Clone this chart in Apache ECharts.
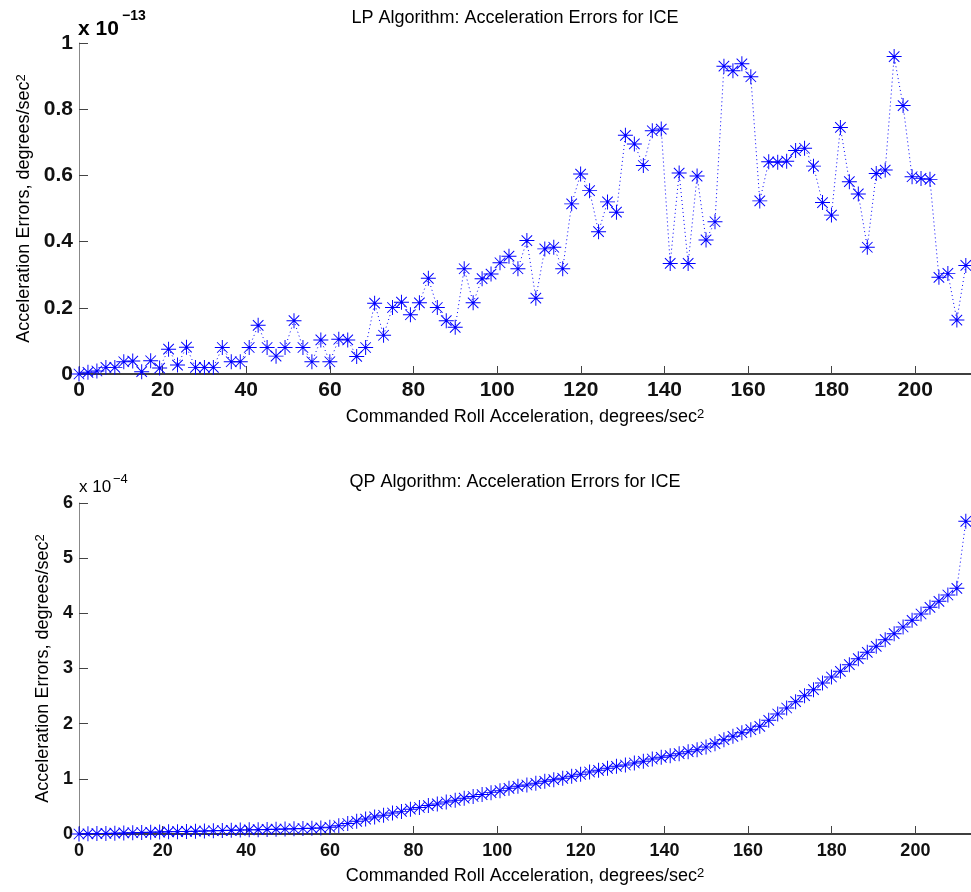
<!DOCTYPE html>
<html>
<head>
<meta charset="utf-8">
<title>LP / QP Acceleration Errors for ICE</title>
<script src="https://cdn.jsdelivr.net/npm/echarts@6/dist/echarts.min.js"></script>
<style>
  html, body { margin: 0; padding: 0; background: #ffffff; }
  #chart { width: 971px; height: 892px; }
</style>
</head>
<body>
<div id="chart"></div>
<script>
// Commanded roll acceleration (degrees/sec^2) at each test case
const rollAccel = [
  0, 2.14, 4.28, 6.43, 8.57, 10.71, 12.85, 14.99, 17.14, 19.28,
  21.42, 23.56, 25.7, 27.85, 29.99, 32.13, 34.27, 36.41, 38.56, 40.7,
  42.84, 44.98, 47.12, 49.27, 51.41, 53.55, 55.69, 57.83, 59.98, 62.12,
  64.26, 66.4, 68.54, 70.69, 72.83, 74.97, 77.11, 79.25, 81.4, 83.54,
  85.68, 87.82, 89.96, 92.11, 94.25, 96.39, 98.53, 100.67, 102.82, 104.96,
  107.1, 109.24, 111.38, 113.53, 115.67, 117.81, 119.95, 122.09, 124.24, 126.38,
  128.52, 130.66, 132.8, 134.95, 137.09, 139.23, 141.37, 143.51, 145.66, 147.8,
  149.94, 152.08, 154.22, 156.37, 158.51, 160.65, 162.79, 164.93, 167.08, 169.22,
  171.36, 173.5, 175.64, 177.79, 179.93, 182.07, 184.21, 186.35, 188.5, 190.64,
  192.78, 194.92, 197.06, 199.21, 201.35, 203.49, 205.63, 207.77, 209.92, 212.06
];

// LP algorithm acceleration errors, in units of 1e-13 degrees/sec^2
const lpErrors = [
  0, 0.005, 0.009, 0.020, 0.020, 0.037, 0.039, 0.007, 0.040, 0.018,
  0.075, 0.027, 0.081, 0.020, 0.020, 0.020, 0.080, 0.037, 0.037, 0.080,
  0.147, 0.080, 0.054, 0.080, 0.161, 0.080, 0.037, 0.103, 0.037, 0.105,
  0.103, 0.053, 0.080, 0.214, 0.117, 0.201, 0.217, 0.179, 0.215, 0.289,
  0.201, 0.161, 0.141, 0.318, 0.215, 0.288, 0.302, 0.336, 0.356, 0.318,
  0.403, 0.229, 0.378, 0.383, 0.318, 0.514, 0.604, 0.554, 0.430, 0.520,
  0.489, 0.721, 0.695, 0.630, 0.735, 0.740, 0.334, 0.607, 0.334, 0.598,
  0.405, 0.460, 0.930, 0.916, 0.937, 0.898, 0.523, 0.641, 0.640, 0.643,
  0.675, 0.682, 0.628, 0.518, 0.480, 0.745, 0.581, 0.544, 0.383, 0.606,
  0.616, 0.959, 0.811, 0.596, 0.591, 0.588, 0.292, 0.304, 0.163, 0.328
];

// QP algorithm acceleration errors, in units of 1e-4 degrees/sec^2
const qpErrors = [
  0, 0.003, 0.007, 0.011, 0.015, 0.019, 0.023, 0.027, 0.031, 0.035,
  0.039, 0.043, 0.047, 0.051, 0.055, 0.059, 0.063, 0.067, 0.071, 0.075,
  0.079, 0.083, 0.087, 0.091, 0.095, 0.100, 0.105, 0.111, 0.122, 0.15,
  0.19, 0.23, 0.27, 0.31, 0.34, 0.38, 0.41, 0.45, 0.48, 0.515,
  0.545, 0.58, 0.61, 0.65, 0.68, 0.715, 0.75, 0.786, 0.828, 0.864,
  0.888, 0.918, 0.955, 0.985, 1.009, 1.045, 1.082, 1.124, 1.154, 1.190,
  1.227, 1.251, 1.287, 1.317, 1.360, 1.390, 1.420, 1.456, 1.492, 1.529,
  1.577, 1.637, 1.710, 1.770, 1.837, 1.891, 1.952, 2.060, 2.175, 2.284,
  2.399, 2.508, 2.616, 2.737, 2.846, 2.949, 3.069, 3.178, 3.293, 3.402,
  3.523, 3.631, 3.752, 3.873, 3.988, 4.109, 4.218, 4.332, 4.453, 5.668
];

const xTicks = [0, 20, 40, 60, 80, 100, 120, 140, 160, 180, 200];
const titles = [
  'LP Algorithm: Acceleration Errors for ICE',
  'QP Algorithm: Acceleration Errors for ICE'
];
const xName = 'Commanded Roll Acceleration, degrees/sec';
const yName = 'Acceleration Errors, degrees/sec';

const FONT = '"Liberation Sans", Arial, Helvetica, sans-serif';
const BLUE = '#0000ff';

// asterisk marker: horizontal, vertical and two diagonal strokes
const ASTERISK = 'path://M0 9.35H20V10.65H0Z M9.35 0H10.65V20H9.35Z ' +
  'M2.55 3.45L3.45 2.55L17.45 16.55L16.55 17.45Z M16.55 2.55L17.45 3.45L3.45 17.45L2.55 16.55Z';

function pairs(ys) {
  return rollAccel.map((x, i) => [x, ys[i]]);
}

function nameRich(size) {
  return {
    b: { fontSize: size, lineHeight: size, fontFamily: FONT, color: '#000',
         padding: [6, 0, 0, 0], verticalAlign: 'bottom' },
    sup: { fontSize: 13, lineHeight: 13, fontFamily: FONT, color: '#000',
           verticalAlign: 'top' }
  };
}

function xAxisFor(idx, labelSize, gap, margin) {
  return {
    gridIndex: idx, type: 'value', min: 0, max: 213.3,
    name: '{b|' + xName + '}{sup|2}',
    nameLocation: 'middle', nameGap: gap,
    nameTextStyle: { rich: nameRich(18) },
    axisLine: { show: true, onZero: false, lineStyle: { color: '#000', width: 1.6 } },
    axisTick: { show: true, inside: true, length: 8, customValues: xTicks,
                lineStyle: { color: '#444', width: 1 } },
    axisLabel: { customValues: xTicks, fontSize: labelSize, fontFamily: FONT,
                 fontWeight: 'bold', color: '#111', margin: margin },
    splitLine: { show: false }
  };
}

function yAxisFor(idx, max, step, labelSize, gap, fmt) {
  return {
    gridIndex: idx, type: 'value', min: 0, max: max, interval: step,
    name: '{b|' + yName + '}{sup|2}',
    nameLocation: 'middle', nameGap: gap,
    nameTextStyle: { rich: nameRich(18) },
    axisLine: { show: true, lineStyle: { color: '#888', width: 1 } },
    axisTick: { show: true, inside: true, length: 9, lineStyle: { color: '#444', width: 1 } },
    axisLabel: { fontSize: labelSize, fontFamily: FONT, fontWeight: 'bold',
                 color: '#111', margin: 6, formatter: fmt },
    splitLine: { show: false }
  };
}

function seriesFor(idx, ys) {
  return {
    type: 'line', xAxisIndex: idx, yAxisIndex: idx,
    data: pairs(ys),
    symbol: ASTERISK, symbolSize: 15, showAllSymbol: true,
    itemStyle: { color: BLUE },
    lineStyle: { color: BLUE, width: 1, type: [1, 3] },
    clip: false, silent: true, z: 3
  };
}

function textAt(x, y, text, size, align, weight) {
  return {
    type: 'text', x: x, y: y, silent: true,
    style: { text: text, fontSize: size, fontFamily: FONT, fill: '#000',
             fontWeight: weight || 'normal',
             align: align || 'left', verticalAlign: 'middle' }
  };
}

const chart = echarts.init(document.getElementById('chart'), null, { renderer: 'canvas' });
chart.setOption({
  animation: false,
  backgroundColor: '#ffffff',
  grid: [
    { left: 79, top: 43, right: 0, height: 331 },
    { left: 79, top: 503, right: 0, height: 331 }
  ],
  xAxis: [
    xAxisFor(0, 21, 32, 6),
    xAxisFor(1, 18, 28, 8)
  ],
  yAxis: [
    yAxisFor(0, 1, 0.2, 21, 44, v => String(Math.round(v * 10) / 10)),
    yAxisFor(1, 6, 1, 18, 24, v => String(Math.round(v)))
  ],
  series: [
    seriesFor(0, lpErrors),
    seriesFor(1, qpErrors)
  ],
  graphic: [
    textAt(515, 18.5, titles[0], 18, 'center'),
    textAt(515, 482, titles[1], 18, 'center'),
    textAt(78, 29, 'x 10', 21, 'left', 'bold'),
    textAt(122, 16, '\u221213', 14, 'left', 'bold'),
    textAt(79, 487.5, 'x 10', 17),
    textAt(113, 479, '\u22124', 13)
  ]
});
</script>
</body>
</html>
